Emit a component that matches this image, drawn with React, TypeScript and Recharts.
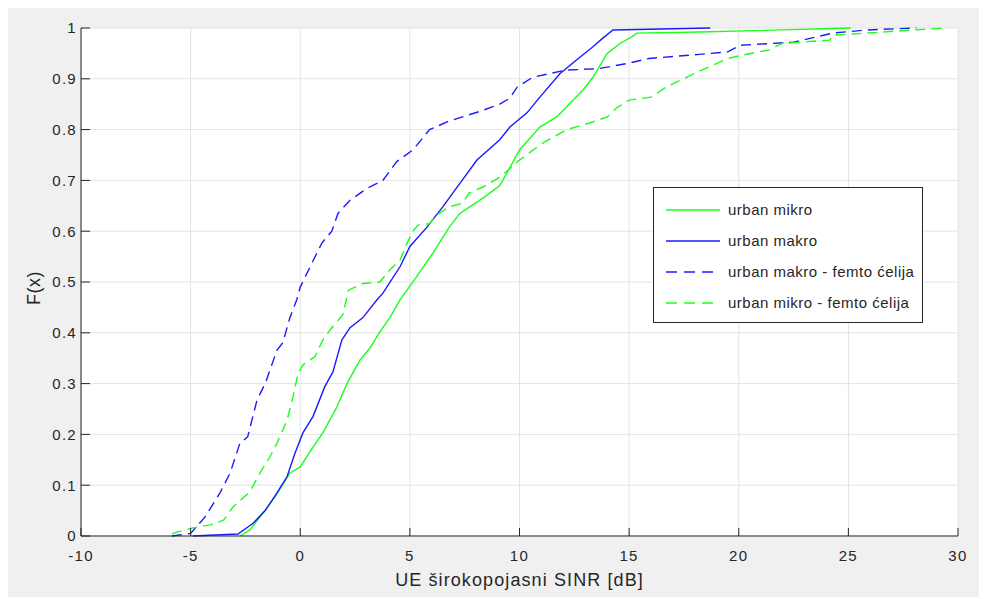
import React from "react";
import {
  LineChart,
  Line,
  XAxis,
  YAxis,
  CartesianGrid,
  Legend,
} from "recharts";

// urban makro
const makroX = [-4.9, -2.84, -2.15, -1.6, -1.06, -0.6, -0.24, 0.12, 0.58, 1.12, 1.49, 1.9, 2.27, 2.86, 3.5, 3.77, 4.55, 5.0, 5.78, 6.5, 7.28, 8.06, 9.1, 9.56, 10.34, 10.93, 11.84, 12.6, 13.35, 13.8, 14.26, 18.7];
const makroF = [0, 0.004, 0.025, 0.05, 0.085, 0.117, 0.163, 0.203, 0.235, 0.294, 0.323, 0.386, 0.41, 0.43, 0.465, 0.478, 0.53, 0.57, 0.608, 0.648, 0.694, 0.74, 0.78, 0.805, 0.833, 0.864, 0.91, 0.937, 0.963, 0.98, 0.996, 1.0];

// urban makro - femto celija
const makroFemtoX = [-5.85, -5.0, -4.35, -3.66, -3.2, -2.75, -2.4, -1.97, -1.6, -1.06, -0.8, -0.47, -0.16, 0, 0.53, 0.99, 1.44, 1.72, 2.27, 3.04, 3.77, 4.4, 5.14, 5.9, 6.8, 8.2, 9.1, 9.56, 9.9, 10.6, 12.1, 13.6, 14.9, 15.9, 18.2, 19.5, 20.05, 22.5, 24.3, 25.8, 28.1];
const makroFemtoF = [0, 0.005, 0.037, 0.085, 0.124, 0.183, 0.195, 0.268, 0.3, 0.366, 0.38, 0.43, 0.465, 0.49, 0.537, 0.577, 0.6, 0.635, 0.661, 0.684, 0.7, 0.737, 0.76, 0.8, 0.817, 0.836, 0.85, 0.862, 0.884, 0.903, 0.917, 0.92, 0.93, 0.94, 0.948, 0.953, 0.966, 0.972, 0.99, 0.996, 1.0];

// urban mikro
const mikroX = [-2.75, -2.3, -1.7, -1.15, -0.47, 0, 0.58, 1.03, 1.67, 2.13, 2.72, 3.18, 3.6, 4.09, 4.55, 5.3, 6.05, 6.8, 7.28, 8.33, 9.1, 9.42, 10.0, 10.93, 11.7, 12.3, 12.9, 13.35, 14.0, 14.6, 15.1, 15.35, 18.2, 25.1];
const mikroF = [0, 0.012, 0.045, 0.077, 0.124, 0.136, 0.175, 0.203, 0.254, 0.3, 0.346, 0.37, 0.4, 0.43, 0.465, 0.51, 0.557, 0.608, 0.635, 0.665, 0.69, 0.714, 0.76, 0.805, 0.825, 0.852, 0.878, 0.903, 0.95, 0.97, 0.982, 0.99, 0.992, 1.0];

// urban mikro - femto celija
const mikroFemtoX = [-5.85, -5.6, -4.9, -4.1, -3.5, -3.07, -2.3, -1.84, -1.38, -1.06, -0.6, -0.33, -0.1, 0.12, 0.67, 1.03, 1.44, 1.95, 2.2, 2.86, 3.63, 4.09, 4.55, 4.87, 5.14, 5.37, 5.9, 6.23, 6.8, 7.4, 7.7, 8.33, 9.1, 10.0, 11.07, 12.16, 13.2, 14.0, 14.44, 15.0, 16.0, 16.7, 18.2, 19.5, 20.2, 21.4, 22.0, 24.15, 24.3, 25.8, 29.4];
const mikroFemtoF = [0.004, 0.008, 0.016, 0.022, 0.031, 0.057, 0.087, 0.124, 0.156, 0.183, 0.228, 0.274, 0.32, 0.337, 0.353, 0.386, 0.41, 0.436, 0.484, 0.497, 0.5, 0.524, 0.543, 0.576, 0.6, 0.612, 0.615, 0.632, 0.648, 0.655, 0.675, 0.687, 0.706, 0.74, 0.774, 0.8, 0.813, 0.825, 0.843, 0.858, 0.864, 0.884, 0.915, 0.94, 0.947, 0.957, 0.97, 0.976, 0.986, 0.99, 1.0];

const xTicks = [-10, -5, 0, 5, 10, 15, 20, 25, 30];
const yTicks = [0, 0.1, 0.2, 0.3, 0.4, 0.5, 0.6, 0.7, 0.8, 0.9, 1];

const toPoints = (xs: number[], ys: number[]) => xs.map((x, i) => ({ x, y: ys[i] }));

const GREEN = "#1aff1a";
const BLUE = "#1a1aff";
const FONT = "'Liberation Sans', Arial, sans-serif";
const INK = "#262626";

const series = [
  { name: "urban mikro", color: GREEN, dash: undefined, data: toPoints(mikroX, mikroF) },
  { name: "urban makro", color: BLUE, dash: undefined, data: toPoints(makroX, makroF) },
  { name: "urban makro - femto ćelija", color: BLUE, dash: "10 6", data: toPoints(makroFemtoX, makroFemtoF) },
  { name: "urban mikro - femto ćelija", color: GREEN, dash: "10 6", data: toPoints(mikroFemtoX, mikroFemtoF) },
];

const tickStyle = { fill: INK, fontSize: 15, fontFamily: FONT, letterSpacing: 1.3 };

function LegendBox() {
  return (
    <div
      style={{
        width: 270,
        height: 136,
        border: `1px solid ${INK}`,
        background: "#fff",
        fontFamily: FONT,
        fontSize: 15,
        letterSpacing: 0.5,
        color: INK,
        paddingTop: 6,
        boxSizing: "border-box",
      }}
    >
      {series.map((s) => (
        <div key={s.name} style={{ display: "flex", alignItems: "center", height: 31 }}>
          <svg width={74} height={10} style={{ flex: "none" }}>
            <line x1={12} x2={66} y1={5} y2={5} stroke={s.color} strokeWidth={1.5} strokeDasharray={s.dash ? "11 7" : undefined} />
          </svg>
          <span style={{ whiteSpace: "nowrap" }}>{s.name}</span>
        </div>
      ))}
    </div>
  );
}

export default function App() {
  return (
    <div style={{ width: 971, height: 589, background: "#f0f0f0" }}>
      <LineChart width={971} height={589} margin={{ top: 20, right: 21, left: 0, bottom: 0 }}>
        <CartesianGrid stroke="#e3e3e3" fill="#ffffff" />
        <XAxis
          dataKey="x"
          type="number"
          domain={[-10, 30]}
          ticks={xTicks}
          allowDuplicatedCategory={false}
          height={61}
          tickSize={-8}
          tickMargin={22}
          stroke={INK}
          tick={tickStyle}
          label={{
            content: (p: any) => (
              <text
                x={p.viewBox.x + p.viewBox.width / 2}
                y={p.viewBox.y + 50}
                textAnchor="middle"
                fill={INK}
                fontSize={18}
                letterSpacing={1.1}
                fontFamily={FONT}
              >
                UE širokopojasni SINR [dB]
              </text>
            ),
          }}
        />
        <YAxis
          type="number"
          domain={[0, 1]}
          ticks={yTicks}
          width={73}
          tickSize={-9}
          tickMargin={13}
          stroke={INK}
          tick={tickStyle}
          label={{
            content: (p: any) => {
              const cx = p.viewBox.x + 26;
              const cy = p.viewBox.y + p.viewBox.height / 2 + 6;
              return (
                <text
                  x={cx}
                  y={cy}
                  transform={`rotate(-90 ${cx} ${cy})`}
                  textAnchor="middle"
                  dominantBaseline="central"
                  fill={INK}
                  fontSize={18}
                  letterSpacing={0.5}
                  fontFamily={FONT}
                >
                  F(x)
                </text>
              );
            },
          }}
        />
        <Legend
          layout="horizontal"
          verticalAlign="middle"
          content={() => <LegendBox />}
          wrapperStyle={{ position: "absolute", left: 645, top: 179, width: 270 }}
        />
        {series.map((s) => (
          <Line
            key={s.name}
            data={s.data}
            dataKey="y"
            name={s.name}
            type="linear"
            stroke={s.color}
            strokeWidth={1.4}
            strokeDasharray={s.dash}
            dot={false}
            activeDot={false}
            isAnimationActive={false}
          />
        ))}
      </LineChart>
    </div>
  );
}
